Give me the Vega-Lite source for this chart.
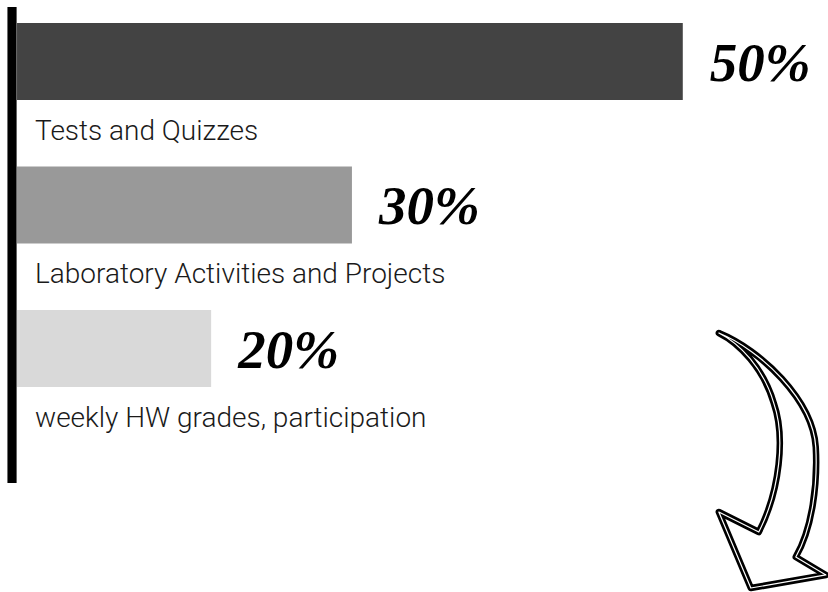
{
  "$schema": "https://vega.github.io/schema/vega-lite/v6.json",
  "autosize": {"type": "none"},
  "padding": {"left": 0, "top": 7, "right": 0, "bottom": 109},
  "width": 828,
  "height": 476,
  "background": "white",
  "config": {"view": {"stroke": null}},
  "data": {
    "values": [
      {"category": "Tests and Quizzes", "pct": 50, "label": "50%"},
      {"category": "Laboratory Activities and Projects", "pct": 30, "label": "30%"},
      {"category": "weekly HW grades, participation", "pct": 20, "label": "20%"}
    ]
  },
  "encoding": {
    "y": {
      "field": "category",
      "type": "nominal",
      "axis": null,
      "scale": {
        "type": "band",
        "domain": ["Tests and Quizzes", "Laboratory Activities and Projects", "weekly HW grades, participation"],
        "paddingInner": 0.463,
        "paddingOuter": 0.39,
        "align": 0.143
      }
    }
  },
  "layer": [
    {
      "mark": {"type": "bar"},
      "encoding": {
        "x": {
          "field": "pct",
          "type": "quantitative",
          "axis": null,
          "scale": {"type": "pow", "exponent": 1.345, "domain": [-3.274, 57.9], "nice": false, "zero": false}
        },
        "color": {
          "field": "category",
          "type": "nominal",
          "legend": null,
          "scale": {
            "domain": ["Tests and Quizzes", "Laboratory Activities and Projects", "weekly HW grades, participation"],
            "range": ["#434343", "#999999", "#d9d9d9"]
          }
        }
      }
    },
    {
      "mark": {"type": "rule", "color": "black", "strokeWidth": 8.5},
      "encoding": {
        "x": {"datum": -1.318, "type": "quantitative"},
        "y": null
      }
    },
    {
      "mark": {
        "type": "text",
        "align": "left",
        "baseline": "alphabetic",
        "dx": 27,
        "dy": 19,
        "font": "Liberation Serif",
        "fontStyle": "italic",
        "fontWeight": "bold",
        "fontSize": 55,
        "color": "black"
      },
      "encoding": {
        "x": {"field": "pct", "type": "quantitative"},
        "text": {"field": "label"}
      }
    },
    {
      "mark": {
        "type": "text",
        "align": "left",
        "baseline": "alphabetic",
        "dx": 18,
        "dy": 78,
        "font": "Roboto",
        "fontWeight": 300,
        "fontSize": 28,
        "color": "#1a1a1a"
      },
      "encoding": {
        "x": {"datum": 0, "type": "quantitative"},
        "text": {"field": "category"}
      }
    },
    {
      "data": {"values": [{"item": "arrow"}]},
      "mark": {
        "type": "point",
        "filled": false,
        "opacity": 1,
        "stroke": "black",
        "strokeWidth": 6.5,
        "strokeJoin": "round",
        "size": 72900,
        "shape": "M0.267,-0.115 C0.578,0.011 0.963,0.381 0.985,0.730 C1.0,1.0 0.96,1.33 0.837,1.544 L1.06,1.677 L0.504,1.774 L0.267,1.211 L0.563,1.359 C0.72,1.05 0.76,0.65 0.674,0.404 C0.6,0.15 0.42,-0.04 0.267,-0.115 Z"
      },
      "encoding": {
        "x": {"datum": 50, "type": "quantitative"},
        "y": {"datum": "weekly HW grades, participation", "type": "nominal"}
      }
    },
    {
      "data": {"values": [{"item": "arrow"}]},
      "mark": {
        "type": "point",
        "filled": false,
        "opacity": 1,
        "stroke": "white",
        "strokeWidth": 1.2,
        "strokeJoin": "round",
        "size": 72900,
        "shape": "M0.267,-0.115 C0.578,0.011 0.963,0.381 0.985,0.730 C1.0,1.0 0.96,1.33 0.837,1.544 L1.06,1.677 L0.504,1.774 L0.267,1.211 L0.563,1.359 C0.72,1.05 0.76,0.65 0.674,0.404 C0.6,0.15 0.42,-0.04 0.267,-0.115 Z"
      },
      "encoding": {
        "x": {"datum": 50, "type": "quantitative"},
        "y": {"datum": "weekly HW grades, participation", "type": "nominal"}
      }
    }
  ]
}
